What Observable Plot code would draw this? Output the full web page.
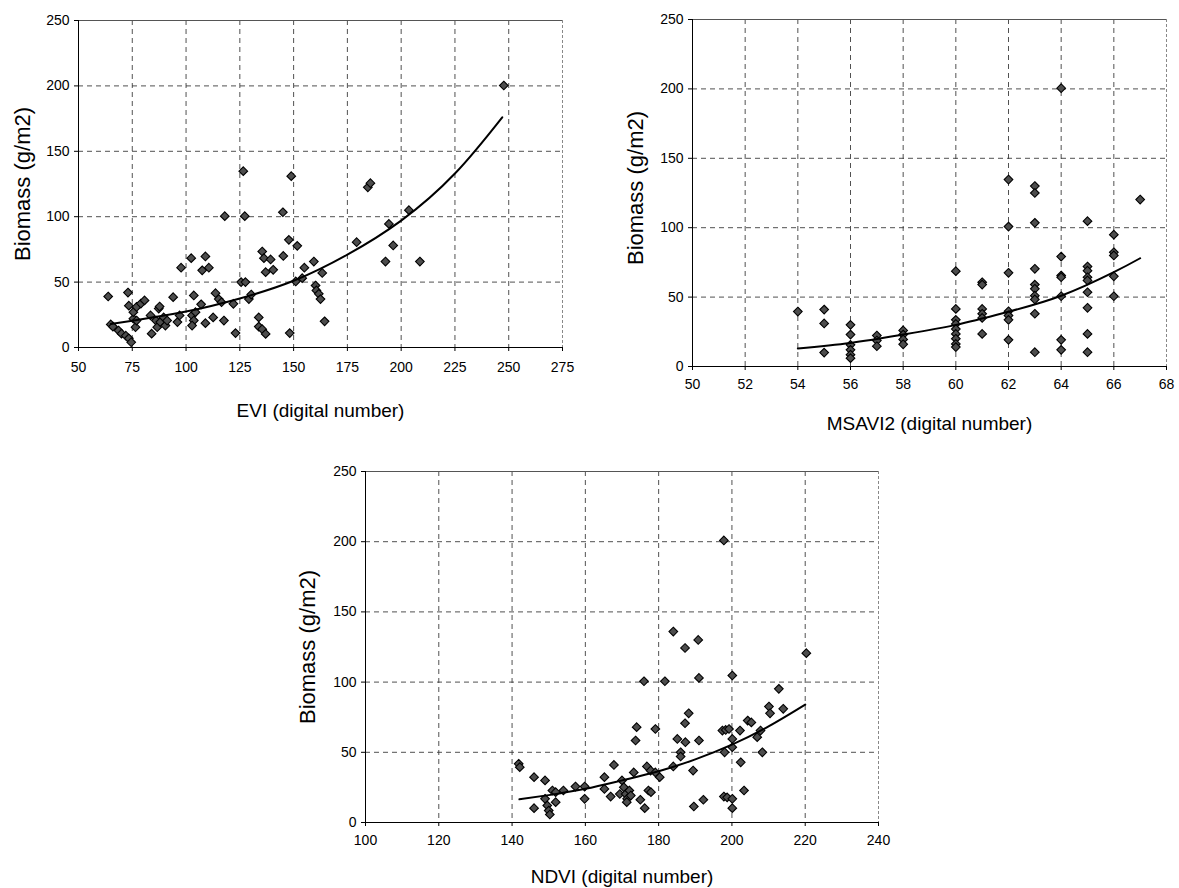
<!DOCTYPE html>
<html><head><meta charset="utf-8">
<script src="https://cdn.jsdelivr.net/npm/d3@7"></script>
<script src="https://cdn.jsdelivr.net/npm/@observablehq/plot@0.6"></script>
<style>
body{margin:0;background:#fff;}
#wrap{position:relative;width:1179px;height:888px;background:#fff;overflow:hidden;}
.panel{position:absolute;}
</style></head><body><div id="wrap"></div>
<script>
// ---- EVI panel ----
const eviX = [63.8,65,66,68.6,70,72,73.4,74.5,73,73.4,76.5,75.5,75.5,77,79,80.7,77,83.5,84,86,86.6,87.3,87.7,88,89.6,90.4,91.2,94,96,97,97.7,102.4,103.6,102.8,103.6,102.8,104.4,107,107.5,109,110.6,109,112.6,113.7,115.2,116.5,117.6,118,122,123,125.6,127.6,127.3,126.6,129.2,130.3,133.8,133.8,135.4,137,135.4,136.2,137,139.3,140.5,145,145.2,148.2,147.8,148.9,151.7,151,154,155,159.4,163.3,160.2,160.6,161.7,162.5,164.4,179.3,184.5,185.7,192.7,194.3,196.3,203.6,208.7,247.7];
const eviY = [39,17.6,16,13,10.6,9,7,4,42,32,15.5,22,27,31,33.6,36,20.6,24.5,10.6,20.6,15.5,29.8,31.3,19.4,23,16.8,20.6,38.5,19.4,24.5,61,68.3,39.8,24.5,20.6,16.8,27,33,59,69.6,61,18.6,23,41.5,37,34.6,20.6,100.4,33.4,11,50,50,100.4,134.8,37,40.5,23,16,14,10.4,73.4,68.3,57.6,67.3,59.4,103.4,70,11,82.3,131,77.7,50.5,53,61,65.7,57,47.4,43.6,41,37,20,80.5,122.5,125.6,65.7,94.5,78,105,65.7,200.3];
const eviTrendX = [65,75,100,125,150,175,200,225,247];
const eviTrendY = [18,20.5,27.5,37.5,51,71,97,133,176];
const eviTicks = [50,75,100,125,150,175,200,225,250,275];

// ---- MSAVI2 panel ----
const msaviX = [54,55,55,55,56,56,56,56,56,56,57,57,57,58,58,58,58,60,60,60,60,60,60,60,60,60,61,61,61,61,61,61,62,62,62,62,62,62,62,63,63,63,63,63,63,63,63,63,63,64,64,64,64,64,64,64,65,65,65,65,65,65,65,65,65,66,66,66,66,66,67];
const msaviY = [39.6,41,31,10,30,23,15.6,12,8.5,6,22.3,18.7,14.6,26,23,19.5,16,68.7,41.5,33.6,30.7,27,23.5,20,16.3,14,60.7,59,41.5,38,35,23.5,134.7,100.8,67.5,39.8,36.7,33.6,19.2,130,125,103.5,70.4,59,56,51,48.3,38,10.3,200.5,79.2,65.5,64.3,50.6,19.2,12,104.7,72,69,64.3,62,53.5,42.3,23.5,10.3,95,82.3,80,65,50.6,120.3];
const msaviTrendX = [54,56,58,60,62,64,66,67];
const msaviTrendY = [13,17,23,30,39.5,51,68,78];
const msaviTicks = [50,52,54,56,58,60,62,64,66,68];

// ---- NDVI panel ----
const ndviX = [141.8,142.1,146,146,149,149,149.6,150,150.3,151,151.9,151.9,154,157.3,159.8,159.8,165.2,165.2,166.9,167.8,169.4,170,170.5,171,171.4,171.3,172,172.4,173.2,173.7,174,175,176.2,176.8,177.2,177.9,177.8,179.1,179.1,180.3,184,185.1,186,186,187.2,187.3,188.2,189.4,189.6,191,192.2,197.4,198.3,199.2,198,197.8,198.7,200.1,200.1,200.1,200.1,202.2,202.4,203.3,204.3,205.3,206.9,207.8,208.3,210.1,210.4,212.8,214,176,181.7,191,200.1,197.8,184,187.2,190.8,220.3];
const ndviY = [41.8,39.4,32.3,10.2,30,16.9,12.1,8.5,5.7,22.8,21.6,14.5,22.8,25.6,25.6,16.9,32.3,23.9,18.5,41,20.3,30,25.1,20.3,16.9,14.5,22.8,19.2,35.7,58.4,67.9,16.2,10.2,39.9,22.8,21.6,37,66.6,35.7,32.3,39.9,59.5,50,47,70.7,57.2,77.8,37,11.4,58.4,16.2,65.5,65.9,66.6,50,18.5,17.9,59.5,53.6,16.9,10.2,65.5,42.9,22.8,72.6,71.3,60.8,65.5,50,82.6,77.8,95.2,81,100.6,100.6,103,104.7,200.9,136,124.3,130,120.6];
const ndviTrendX = [142,150,160,170,180,190,200,210,220];
const ndviTrendY = [16.5,19.5,24,30,36.5,45,55.5,68.5,84];
const ndviTicks = [100,120,140,160,180,200,220,240];

const yTicks = [0,50,100,150,200,250];
const yLabel = "Biomass (g/m2)";

const FONT = "'Liberation Sans', Arial, Helvetica, sans-serif";

function zip(xs, ys) { return xs.map((x, i) => ({x, y: ys[i]})); }

function panel(cfg) {
  const pts = zip(cfg.xs, cfg.ys);
  const trend = zip(cfg.tx, cfg.ty);
  const xmin = cfg.ticks[0], xmax = cfg.ticks[cfg.ticks.length - 1];
  const chart = Plot.plot({
    width: cfg.width, height: cfg.height,
    marginLeft: cfg.ml, marginRight: cfg.mr, marginTop: cfg.mt, marginBottom: cfg.mb,
    style: {fontFamily: FONT, fontSize: "14px", color: "#000", background: "transparent", overflow: "visible"},
    x: {domain: [xmin, xmax]},
    y: {domain: [0, 250]},
    marks: [
      Plot.gridX(cfg.ticks.slice(1, -1), {stroke: "#333", strokeOpacity: 0.85, strokeDasharray: "5,4"}),
      Plot.gridY(yTicks.slice(1, -1), {stroke: "#333", strokeOpacity: 0.85, strokeDasharray: "5,4"}),
      Plot.ruleY([250], {stroke: "#555"}),
      Plot.ruleX([xmax], {stroke: "#888", strokeDasharray: "3,2"}),
      Plot.ruleY([0], {stroke: "#000"}),
      Plot.ruleX([xmin], {stroke: "#000"}),
      Plot.axisX(cfg.ticks, {tickSize: 4, tickPadding: cfg.xpad, tickFormat: d => String(d), label: null, fontSize: 14}),
      Plot.axisY(yTicks, {tickSize: 4, tickPadding: 5, tickFormat: d => String(d), label: null, fontSize: 14}),
      Plot.dot(pts, {x: "x", y: "y", symbol: "diamond2", r: 3.9, fill: "#4d4d4d", stroke: "#000", strokeWidth: 1.1}),
      Plot.line(trend, {x: "x", y: "y", curve: "natural", stroke: "#000", strokeWidth: 2}),
      Plot.text([yLabel], {frameAnchor: "left", rotate: -90, dx: cfg.ydx, dy: cfg.ydy, fontSize: 22, fill: "#000", textAnchor: "middle", lineAnchor: "middle"}),
      Plot.text([cfg.xLabel], {frameAnchor: "bottom", dy: cfg.xdy, fontSize: 19, fill: "#000", lineAnchor: "middle"})
    ]
  });
  chart.classList.add("panel");
  chart.style.left = cfg.left + "px";
  chart.style.top = cfg.top + "px";
  chart.style.position = "absolute";
  document.getElementById("wrap").appendChild(chart);
}

panel({xs: eviX, ys: eviY, tx: eviTrendX, ty: eviTrendY, ticks: eviTicks, xLabel: "EVI (digital number)",
  left: 0, top: 0, width: 590, height: 430, ml: 78, mr: 28, mt: 20, mb: 83, xpad: 11, ydx: -56, ydy: 0, xdy: 63});
panel({xs: msaviX, ys: msaviY, tx: msaviTrendX, ty: msaviTrendY, ticks: msaviTicks, xLabel: "MSAVI2 (digital number)",
  left: 600, top: 0, width: 579, height: 440, ml: 92, mr: 13, mt: 19, mb: 74, xpad: 9, ydx: -57, ydy: -5, xdy: 57});
panel({xs: ndviX, ys: ndviY, tx: ndviTrendX, ty: ndviTrendY, ticks: ndviTicks, xLabel: "NDVI (digital number)",
  left: 280, top: 450, width: 620, height: 438, ml: 85, mr: 22, mt: 21, mb: 66, xpad: 9, ydx: -58, ydy: 0, xdy: 54.5});
</script></body></html>
